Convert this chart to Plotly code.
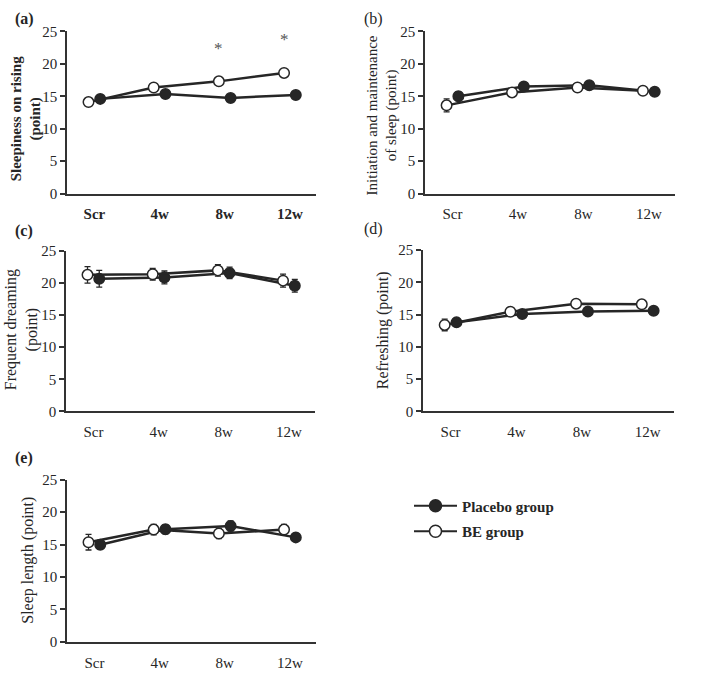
import plotly.graph_objects as go

timepoints = ["Scr", "4w", "8w", "12w"]
y_ticks = [0, 5, 10, 15, 20, 25]

panels = ["(a)", "(b)", "(c)", "(d)", "(e)"]
titles = [
    "Sleepiness on rising<br>(point)",
    "Initiation and maintenance<br>of sleep (point)",
    "Frequent dreaming<br>(point)",
    "Refreshing (point)",
    "Sleep length (point)",
]

# group means / SE per panel
placebo_a = [14.6, 15.35, 14.75, 15.2]
placebo_a_se = [0.6, 0.5, 0.5, 0.5]
be_a = [14.1, 16.35, 17.3, 18.6]
be_a_se = [0.6, 0.5, 0.5, 0.5]

placebo_b = [15.0, 16.5, 16.7, 15.7]
placebo_b_se = [0.7, 0.5, 0.5, 0.5]
be_b = [13.6, 15.6, 16.35, 15.85]
be_b_se = [1.0, 0.5, 0.5, 0.5]

placebo_c = [20.7, 20.9, 21.6, 19.6]
placebo_c_se = [1.3, 1.0, 0.9, 1.0]
be_c = [21.3, 21.4, 22.0, 20.4]
be_c_se = [1.3, 0.9, 0.9, 1.0]

placebo_d = [13.8, 15.1, 15.5, 15.6]
placebo_d_se = [0.6, 0.5, 0.5, 0.5]
be_d = [13.4, 15.45, 16.7, 16.6]
be_d_se = [0.9, 0.5, 0.5, 0.5]

placebo_e = [14.95, 17.35, 17.85, 16.1]
placebo_e_se = [0.6, 0.7, 0.8, 0.6]
be_e = [15.35, 17.3, 16.7, 17.3]
be_e_se = [1.2, 0.8, 0.8, 0.8]

placebo_all = [placebo_a, placebo_b, placebo_c, placebo_d, placebo_e]
placebo_se_all = [placebo_a_se, placebo_b_se, placebo_c_se, placebo_d_se, placebo_e_se]
be_all = [be_a, be_b, be_c, be_d, be_e]
be_se_all = [be_a_se, be_b_se, be_c_se, be_d_se, be_e_se]

# significance marks (panel a): timepoint index, y
sig_idx = [2, 3]
sig_y = [22.3, 23.8]

W, H = 709, 682
FONT = "Liberation Serif"
DARK = "#262626"
AX = "#333333"

# pixel boxes: left, right, top, bottom
boxes = [
    (67, 316, 24, 190),
    (425, 675, 24, 190),
    (66, 315, 249, 413),
    (423, 674, 248, 413),
    (67, 316, 483, 649),
]
label_pos = [(13, 0), (362, 0), (13, 217), (362, 215), (13, 450)]
label_bold = [True, False, True, False, True]
title_pos = [(26, 113), (382, 110), (21, 330), (383, 330), (28, 566)]
title_size = [15, 15, 16, 16, 16]
title_bold = [True, False, False, False, False]
xtick_bold = [True, False, False, False, False]

OFF = 0.09
MS = 10.5

fig = go.Figure()
layout = dict(
    width=W, height=H, margin=dict(l=0, r=0, t=0, b=0),
    paper_bgcolor="white", plot_bgcolor="white",
    font=dict(family=FONT, size=15, color=DARK),
    annotations=[],
)

for i in range(5):
    sfx = "" if i == 0 else str(i + 1)
    xa, ya = "x" + sfx, "y" + sfx
    l, r, t, b = boxes[i]
    xt = [f"<b>{s}</b>" for s in timepoints] if xtick_bold[i] else timepoints
    layout["xaxis" + sfx] = dict(
        domain=[l / W, r / W], anchor=ya, range=[-0.42, 3.4],
        tickvals=[0, 1, 2, 3], ticktext=xt, ticks="", showgrid=False,
        zeroline=False, showline=True, linecolor=AX, linewidth=1.5,
        ticklabelstandoff=6, tickfont=dict(size=15, color=DARK),
    )
    layout["yaxis" + sfx] = dict(
        domain=[1 - b / H, 1 - t / H], anchor=xa, range=[0, 25],
        tickvals=y_ticks, ticks="outside", ticklen=5, tickwidth=1.5,
        tickcolor=AX, showgrid=False, zeroline=False, showline=True,
        linecolor=AX, linewidth=1.5, tickfont=dict(size=15, color=DARK),
    )
    xp = [k + OFF for k in range(4)]
    xb = [k - OFF for k in range(4)]
    fig.add_trace(go.Scatter(
        x=xp, y=placebo_all[i], xaxis=xa, yaxis=ya, mode="lines+markers",
        line=dict(color=DARK, width=2.5),
        marker=dict(size=MS, color=DARK, line=dict(color=DARK, width=1.5)),
        error_y=dict(type="data", array=placebo_se_all[i], color=DARK, thickness=1.3, width=3),
        showlegend=False, cliponaxis=False,
    ))
    fig.add_trace(go.Scatter(
        x=xb, y=be_all[i], xaxis=xa, yaxis=ya, mode="lines+markers",
        line=dict(color=DARK, width=2.5),
        marker=dict(size=MS, color="white", line=dict(color=DARK, width=1.5)),
        error_y=dict(type="data", array=be_se_all[i], color=DARK, thickness=1.3, width=3),
        showlegend=False, cliponaxis=False,
    ))
    lx, ly = label_pos[i]
    txt = f"<b>{panels[i]}</b>" if label_bold[i] else panels[i]
    layout["annotations"].append(dict(
        text=txt, x=lx / W, y=1 - ly / H, xref="paper", yref="paper",
        xanchor="left", yanchor="top", showarrow=False,
        font=dict(size=16, family=FONT, color=DARK),
    ))
    tx, ty = title_pos[i]
    ttxt = f"<b>{titles[i].replace('<br>', '</b><br><b>')}</b>" if title_bold[i] else titles[i]
    layout["annotations"].append(dict(
        text=ttxt, x=tx / W, y=1 - ty / H, xref="paper", yref="paper",
        xanchor="center", yanchor="middle", textangle=-90, showarrow=False,
        font=dict(size=title_size[i], family=FONT, color=DARK),
    ))

for k, yv in zip(sig_idx, sig_y):
    layout["annotations"].append(dict(
        text="*", x=k - OFF, y=yv, xref="x", yref="y", showarrow=False,
        xanchor="center", yanchor="middle", font=dict(size=17, family=FONT, color="#555555"),
    ))

# legend-only traces
fig.add_trace(go.Scatter(
    x=[None], y=[None], mode="lines+markers", name="<b>Placebo group</b>",
    line=dict(color=DARK, width=2),
    marker=dict(size=12, color=DARK, line=dict(color=DARK, width=1.5)),
    legend="legend",
))
fig.add_trace(go.Scatter(
    x=[None], y=[None], mode="lines+markers", name="<b>BE group</b>",
    line=dict(color=DARK, width=2),
    marker=dict(size=12, color="white", line=dict(color=DARK, width=1.5)),
    legend="legend2",
))
leg_common = dict(
    xanchor="left", yanchor="middle",
    bgcolor="rgba(0,0,0,0)", font=dict(size=15, family=FONT, color=DARK),
    itemwidth=43,
)
layout["legend"] = dict(x=409 / W, y=1 - 510 / H, **leg_common)
layout["legend2"] = dict(x=409 / W, y=1 - 536 / H, **leg_common)
fig.update_layout(**layout)
fig.write_html("out.html")
